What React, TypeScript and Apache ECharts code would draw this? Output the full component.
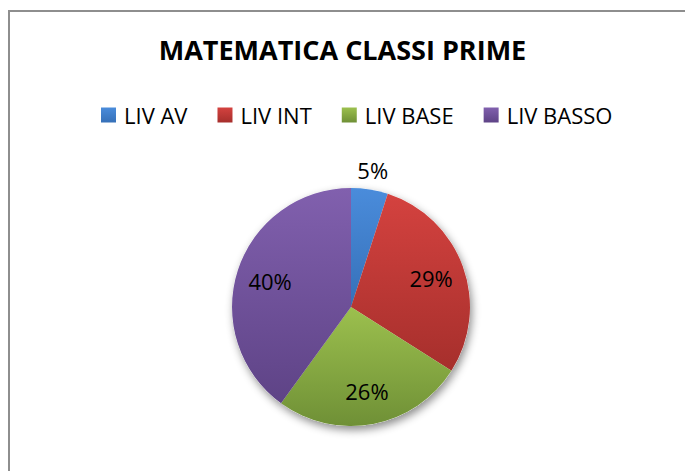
import React, { useEffect, useRef } from "react";
import * as echarts from "echarts";

const titleText = "MATEMATICA CLASSI PRIME";
const categories = ["LIV AV", "LIV INT", "LIV BASE", "LIV BASSO"];
const values = [5, 29, 26, 40];
const colorsTop = ["#4A8CDB", "#D4423F", "#9CC04E", "#8160AE"];
const colorsBottom = ["#3670B8", "#A62F2C", "#6F9036", "#5E4386"];
const outsideLabelItems = ["LIV AV"];

export default function App() {
  const ref = useRef<HTMLDivElement>(null);

  useEffect(() => {
    if (!ref.current) return;
    const chart = echarts.init(ref.current, null, { renderer: "svg" });
    const grad = (i: number) =>
      new echarts.graphic.LinearGradient(0, 0, 0, 1, [
        { offset: 0, color: colorsTop[i] },
        { offset: 1, color: colorsBottom[i] },
      ]);

    const mainData = categories.map((name, i) => ({
      name,
      value: values[i],
      itemStyle: { color: grad(i) },
    }));

    const labelData = (showOutside: boolean) =>
      categories.map((name, i) => ({
        name,
        value: values[i],
        label: { show: outsideLabelItems.includes(name) === showOutside },
      }));

    const center = [351, 307];
    const r = 119;

    chart.setOption({
      animation: false,
      textStyle: { fontFamily: "Open Sans" },
      color: colorsTop,
      title: {
        text: titleText,
        left: "center",
        top: 31,
        textStyle: {
          fontFamily: "Open Sans",
          fontWeight: "bold",
          fontSize: 27,
          color: "#000",
        },
      },
      legend: {
        data: categories,
        left: 96,
        top: 99,
        icon: "rect",
        itemWidth: 15,
        itemHeight: 15,
        itemGap: 30,
        textStyle: {
          fontFamily: "Open Sans",
          fontSize: 22,
          color: "#000",
          padding: [0, 0, 0, 3],
        },
      },
      graphic: [
        {
          type: "rect",
          shape: { x: 9, y: 11, width: 720, height: 520 },
          style: { fill: "none", stroke: "#8e8e8e", lineWidth: 2 },
          silent: true,
          z: -10,
        },
      ],
      series: [
        {
          type: "pie",
          name: "shadow",
          center,
          radius: [0, r],
          silent: true,
          z: 1,
          label: { show: false },
          labelLine: { show: false },
          legendHoverLink: false,
          itemStyle: {
            color: "#ffffff",
            shadowBlur: 8,
            shadowOffsetX: 2,
            shadowOffsetY: 4,
            shadowColor: "rgba(0,0,0,0.45)",
          },
          data: categories.map((name, i) => ({ name: name + " ", value: values[i] })),
        },
        {
          type: "pie",
          name: titleText,
          center,
          radius: [0, r],
          z: 2,
          label: { show: false },
          labelLine: { show: false },
          itemStyle: { borderWidth: 0 },
          data: mainData,
        },
        {
          type: "pie",
          name: "labels-in",
          center,
          radius: [0, r * 1.38],
          silent: true,
          z: 3,
          itemStyle: { color: "transparent" },
          label: {
            position: "inside",
            formatter: "{c}%",
            fontFamily: "Open Sans",
            fontSize: 22,
            color: "#000",
          },
          labelLine: { show: false },
          data: labelData(false),
        },
        {
          type: "pie",
          name: "labels-out",
          center,
          radius: [0, r * 2.28],
          silent: true,
          z: 3,
          itemStyle: { color: "transparent" },
          label: {
            position: "inside",
            formatter: "{c}%",
            fontFamily: "Open Sans",
            fontSize: 22,
            color: "#000",
          },
          labelLine: { show: false },
          data: labelData(true),
        },
      ],
    });
    return () => chart.dispose();
  }, []);

  return (
    <div
      ref={ref}
      style={{ position: "fixed", left: 0, top: 0, width: 685, height: 471, background: "#fff" }}
    />
  );
}
